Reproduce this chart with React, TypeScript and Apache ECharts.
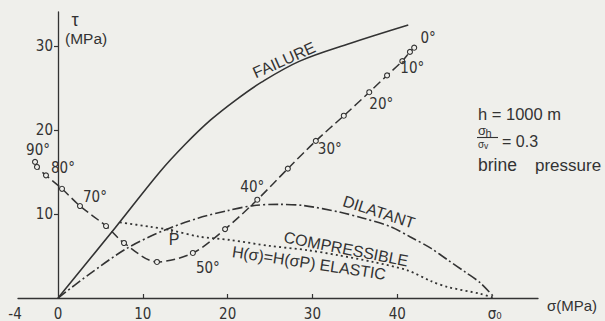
import React, { useEffect, useRef } from 'react';
import * as echarts from 'echarts';

// ---- data (MPa) ----
const failureSigma = [0, 6.7, 12, 15, 18, 21, 24, 28.5, 34.4, 41.3];
const failureTau = [0, 8.3, 15.0, 18.3, 21.2, 23.6, 25.7, 28.2, 30.3, 32.5];

const dilatantSigma = [0, 3.5, 8.1, 12.6, 16.5, 20, 23, 26, 29, 33.3, 36, 39.2, 41.5, 44, 46, 48, 49.8, 51.5];
const dilatantTau = [0, 2.7, 5.9, 8.1, 9.5, 10.4, 11.0, 11.15, 11.0, 10.2, 9.5, 8.5, 7.3, 5.9, 4.5, 3.1, 1.8, 0];

const elasticSigma = [7.3, 10.8, 13.2, 16.7, 20.3, 25, 29.4, 33, 37.1, 41.2, 44, 46, 49.8, 51.5];
const elasticTau = [9.0, 8.5, 8.1, 7.3, 6.9, 6.2, 5.7, 5.1, 4.3, 3.3, 2.0, 1.3, 0.5, 0];

const pathAngle = [90, 85, 80, 75, 70, 65, 60, 55, 50, 45, 40, 35, 30, 25, 20, 15, 10, 5, 0];
const pathSigma = [-2.71, -2.48, -1.42, 0.47, 2.59, 5.66, 7.78, 11.67, 15.9, 19.7, 23.5, 27.1, 30.4, 33.7, 36.7, 38.8, 40.6, 41.5, 42.0];
const pathTau = [16.2, 15.6, 14.6, 13.0, 10.95, 8.57, 6.55, 4.29, 5.36, 8.2, 11.7, 15.4, 18.7, 21.7, 24.5, 26.5, 28.2, 29.3, 29.8];
const labelledAngles = [90, 80, 70, 50, 40, 30, 20, 10, 0];

const pointP = [13.4, 8.25];
const sigma0 = 51.5;

const xTickValues = [10, 20, 30, 40];
const xLabelValues = [-4, 0, 10, 20, 30, 40, sigma0];
const yTickValues = [10, 20, 30];

// ---- styles ----
const BG = '#efefeb';
const INK = '#333333';
const FONT = "'Liberation Sans','DejaVu Sans',sans-serif";
const FONT_N = "'Liberation Sans Narrow','DejaVu Sans Condensed','Liberation Sans',sans-serif";

const angleLabelOffset: Record<number, [number, number]> = {
  90: [3, -12], 80: [17, -7], 70: [15, -9], 50: [15, 15], 40: [-5, -13],
  30: [14, 8], 20: [12, 12], 10: [10, 7], 0: [14, -10],
};

const zip = (a: number[], b: number[]) => a.map((v, i) => [v, b[i]]);

const deg = (d: number) => (d * Math.PI) / 180;

function buildOption() {
  const pathData = pathSigma.map((s, i) => {
    const a = pathAngle[i];
    if (labelledAngles.includes(a)) {
      return {
        value: [s, pathTau[i]],
        label: {
          show: true,
          formatter: a + '°',
          position: 'inside',
          offset: angleLabelOffset[a],
          color: INK,
          textBorderWidth: 0,
          fontSize: 15,
          fontFamily: FONT_N,
        },
      };
    }
    return { value: [s, pathTau[i]] };
  });

  const txt = (text: string, x: number, y: number, size: number, rot = 0, align = 'center', family = FONT) => ({
    type: 'text',
    x,
    y,
    rotation: deg(rot),
    silent: true,
    style: { text, fill: INK, fontSize: size, fontFamily: family, align, verticalAlign: 'middle' },
  });

  return {
    animation: false,
    backgroundColor: BG,
    grid: { left: 18, right: 67, top: 12, bottom: 23, containLabel: false, outerBoundsMode: 'none' },
    xAxis: {
      type: 'value',
      min: -4.72,
      max: 56.6,
      axisLine: { show: true, onZero: false, lineStyle: { color: INK, width: 1.3 } },
      axisTick: { show: true, inside: true, length: 4, customValues: xTickValues, lineStyle: { color: INK, width: 1.2 } },
      axisLabel: {
        customValues: xLabelValues,
        margin: 8,
        color: INK,
        fontSize: 15,
        fontFamily: FONT_N,
        formatter: (v: number) => {
          if (v === -4) return '{m|-4}';
          if (v === sigma0) return 'σ₀';
          return String(v);
        },
        rich: { m: { padding: [0, 18, 0, 0], fontSize: 15, fontFamily: FONT_N, color: INK } },
      },
      splitLine: { show: false },
    },
    yAxis: {
      type: 'value',
      min: 0,
      max: 34.05,
      offset: -40,
      axisLine: { show: true, onZero: false, lineStyle: { color: INK, width: 1.3 } },
      axisTick: { show: true, inside: false, length: 4, customValues: yTickValues, lineStyle: { color: INK, width: 1.2 } },
      axisLabel: { customValues: yTickValues, margin: 5, color: INK, fontSize: 15, fontFamily: FONT_N },
      splitLine: { show: false },
    },
    series: [
      {
        name: 'failure',
        type: 'line',
        data: zip(failureSigma, failureTau),
        symbol: 'none',
        smooth: 0.35,
        lineStyle: { color: INK, width: 1.6 },
        z: 3,
      },
      {
        name: 'dilatant',
        type: 'line',
        data: zip(dilatantSigma, dilatantTau),
        symbol: 'none',
        smooth: 0.3,
        lineStyle: { color: INK, width: 1.6, type: [10, 3, 2, 3] },
        z: 3,
      },
      {
        name: 'elastic',
        type: 'line',
        data: zip(elasticSigma, elasticTau),
        symbol: 'none',
        smooth: 0.3,
        lineStyle: { color: INK, width: 1.8, type: [2, 3.2] },
        z: 3,
      },
      {
        name: 'path',
        type: 'line',
        data: pathData,
        symbol: 'circle',
        symbolSize: 5,
        showAllSymbol: true,
        smooth: 0.3,
        itemStyle: { color: BG, borderColor: INK, borderWidth: 1.1 },
        lineStyle: { color: INK, width: 1.5, type: [9, 4] },
        z: 5,
      },
      {
        name: 'P',
        type: 'scatter',
        data: [pointP],
        symbol: 'rect',
        symbolSize: [1.5, 6],
        symbolOffset: [0, 3],
        itemStyle: { color: INK },
        z: 6,
      },
    ],
    graphic: [
      txt('P', 174, 239, 16),
      txt('τ', 75, 20, 18),
      txt('(MPa)', 65, 38.5, 15.5, 0, 'left'),
      txt('FAILURE', 284, 60, 16, 24),
      txt('DILATANT', 379, 212, 16, -18),
      txt('COMPRESSIBLE', 346, 249, 16, -11),
      txt('H(σ)=H(σP) ELASTIC', 309, 263, 16, -8.5),
      txt('h = 1000 m', 478, 114, 16.5, 0, 'left'),
      txt('σ', 478, 130.5, 13, 0, 'left'),
      txt('h', 485.5, 132.5, 11, 0, 'left'),
      {
        type: 'line',
        silent: true,
        shape: { x1: 477, y1: 137.5, x2: 498, y2: 137.5 },
        style: { stroke: INK, lineWidth: 1.1 },
      },
      txt('σ', 478, 144, 10, 0, 'left'),
      txt('v', 484, 146, 8.5, 0, 'left'),
      txt('= 0.3', 502, 141, 16, 0, 'left'),
      txt('brine', 478, 165, 17.5, 0, 'left'),
      txt('pressure', 535, 165, 17, 0, 'left'),
      txt('σ(MPa)', 547, 305, 15, 0, 'left'),
    ],
  };
}

export default function App() {
  const ref = useRef<HTMLDivElement>(null);
  useEffect(() => {
    if (!ref.current) return;
    const chart = echarts.init(ref.current, null, { renderer: 'svg' });
    chart.setOption(buildOption() as any);
    return () => chart.dispose();
  }, []);
  return (
    <div
      ref={ref}
      style={{ position: 'fixed', left: 0, top: 0, width: 605, height: 321, background: BG }}
    />
  );
}
